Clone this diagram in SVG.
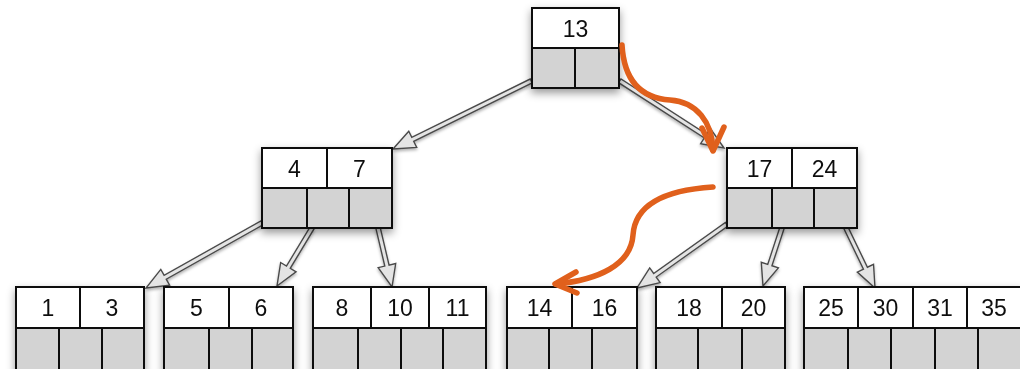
<svg xmlns="http://www.w3.org/2000/svg" width="1020" height="369" viewBox="0 0 1020 369">
  <defs>
    <filter id="shadow" x="-20%" y="-20%" width="140%" height="150%">
      <feDropShadow dx="0" dy="4" stdDeviation="4.5" flood-color="#000" flood-opacity="0.4"/>
    </filter>
    <filter id="arrowShadow" x="-20%" y="-20%" width="140%" height="140%">
      <feDropShadow dx="0" dy="2" stdDeviation="1.8" flood-color="#000" flood-opacity="0.3"/>
    </filter>
  </defs>
  <style>
    .key { fill: #ffffff; stroke: #111; stroke-width: 2; }
    .ptr { fill: #d3d3d3; stroke: #111; stroke-width: 2; }
    .lbl { font-family: "Liberation Sans", Arial, sans-serif; font-size: 23px; fill: #111; text-anchor: middle; }
    .link { fill: #e4e4e4; stroke: #4a4a4a; stroke-width: 1.4; stroke-linejoin: miter; }
    .path { fill: none; stroke: #e0601c; stroke-width: 5.5; stroke-linecap: round; stroke-linejoin: round; }
  </style>

  <rect width="1020" height="369" fill="#ffffff"/>

  <!-- child pointers: hollow double-line arrows, tip at origin, pointing along +x -->
  <g id="connectors" filter="url(#arrowShadow)">
    <path class="link" transform="translate(393,149) rotate(153.8)" d="M0,0 L-22,-9 L-22,-2.2 L-154,-2.2 L-154,2.2 L-22,2.2 L-22,9 Z"/>
    <path class="link" transform="translate(724,148) rotate(32.8)" d="M0,0 L-22,-9 L-22,-2.2 L-124,-2.2 L-124,2.2 L-22,2.2 L-22,9 Z"/>
    <path class="link" transform="translate(146,288) rotate(150.7)" d="M0,0 L-22,-9 L-22,-2.2 L-133,-2.2 L-133,2.2 L-22,2.2 L-22,9 Z"/>
    <path class="link" transform="translate(277,286) rotate(121.1)" d="M0,0 L-22,-9 L-22,-2.2 L-68,-2.2 L-68,2.2 L-22,2.2 L-22,9 Z"/>
    <path class="link" transform="translate(392,287) rotate(76.7)" d="M0,0 L-22,-9 L-22,-2.2 L-61,-2.2 L-61,2.2 L-22,2.2 L-22,9 Z"/>
    <path class="link" transform="translate(637,288) rotate(144.6)" d="M0,0 L-22,-9 L-22,-2.2 L-110,-2.2 L-110,2.2 L-22,2.2 L-22,9 Z"/>
    <path class="link" transform="translate(763,286) rotate(108.1)" d="M0,0 L-22,-9 L-22,-2.2 L-61,-2.2 L-61,2.2 L-22,2.2 L-22,9 Z"/>
    <path class="link" transform="translate(875,288) rotate(64.2)" d="M0,0 L-22,-9 L-22,-2.2 L-67,-2.2 L-67,2.2 L-22,2.2 L-22,9 Z"/>
  </g>

  <!-- root -->
  <g id="node-13" filter="url(#shadow)">
    <rect class="key" x="532" y="8" width="87" height="40"/>
    <rect class="ptr" x="532" y="48" width="43" height="40"/>
    <rect class="ptr" x="575" y="48" width="44" height="40"/>
    <text class="lbl" x="575.5" y="36.5">13</text>
  </g>

  <!-- inner nodes -->
  <g id="node-4-7" filter="url(#shadow)">
    <rect class="key" x="262" y="148" width="65" height="40"/>
    <rect class="key" x="327" y="148" width="65" height="40"/>
    <rect class="ptr" x="262" y="188" width="45" height="40"/>
    <rect class="ptr" x="307" y="188" width="42" height="40"/>
    <rect class="ptr" x="349" y="188" width="43" height="40"/>
    <text class="lbl" x="294.5" y="176.5">4</text>
    <text class="lbl" x="359.5" y="176.5">7</text>
  </g>

  <g id="node-17-24" filter="url(#shadow)">
    <rect class="key" x="727" y="148" width="65" height="40"/>
    <rect class="key" x="792" y="148" width="65" height="40"/>
    <rect class="ptr" x="727" y="188" width="45" height="40"/>
    <rect class="ptr" x="772" y="188" width="42" height="40"/>
    <rect class="ptr" x="814" y="188" width="43" height="40"/>
    <text class="lbl" x="759.5" y="176.5">17</text>
    <text class="lbl" x="824.5" y="176.5">24</text>
  </g>

  <!-- leaves -->
  <g id="leaf-1-3" filter="url(#shadow)">
    <rect class="key" x="16" y="287" width="64" height="41"/>
    <rect class="key" x="80" y="287" width="64" height="41"/>
    <rect class="ptr" x="16" y="328" width="43" height="44"/>
    <rect class="ptr" x="59" y="328" width="43" height="44"/>
    <rect class="ptr" x="102" y="328" width="42" height="44"/>
    <text class="lbl" x="48" y="315.5">1</text>
    <text class="lbl" x="112" y="315.5">3</text>
  </g>

  <g id="leaf-5-6" filter="url(#shadow)">
    <rect class="key" x="164" y="287" width="65" height="41"/>
    <rect class="key" x="229" y="287" width="64" height="41"/>
    <rect class="ptr" x="164" y="328" width="45" height="44"/>
    <rect class="ptr" x="209" y="328" width="43" height="44"/>
    <rect class="ptr" x="252" y="328" width="41" height="44"/>
    <text class="lbl" x="196.5" y="315.5">5</text>
    <text class="lbl" x="261" y="315.5">6</text>
  </g>

  <g id="leaf-8-10-11" filter="url(#shadow)">
    <rect class="key" x="313" y="287" width="58" height="41"/>
    <rect class="key" x="371" y="287" width="58" height="41"/>
    <rect class="key" x="429" y="287" width="57" height="41"/>
    <rect class="ptr" x="313" y="328" width="45" height="44"/>
    <rect class="ptr" x="358" y="328" width="43" height="44"/>
    <rect class="ptr" x="401" y="328" width="42" height="44"/>
    <rect class="ptr" x="443" y="328" width="43" height="44"/>
    <text class="lbl" x="342" y="315.5">8</text>
    <text class="lbl" x="400" y="315.5">10</text>
    <text class="lbl" x="457.5" y="315.5">11</text>
  </g>

  <g id="leaf-14-16" filter="url(#shadow)">
    <rect class="key" x="507" y="287" width="65" height="41"/>
    <rect class="key" x="572" y="287" width="65" height="41"/>
    <rect class="ptr" x="507" y="328" width="42" height="44"/>
    <rect class="ptr" x="549" y="328" width="43" height="44"/>
    <rect class="ptr" x="592" y="328" width="45" height="44"/>
    <text class="lbl" x="539.5" y="315.5">14</text>
    <text class="lbl" x="604.5" y="315.5">16</text>
  </g>

  <g id="leaf-18-20" filter="url(#shadow)">
    <rect class="key" x="656" y="287" width="66" height="41"/>
    <rect class="key" x="722" y="287" width="63" height="41"/>
    <rect class="ptr" x="656" y="328" width="42" height="44"/>
    <rect class="ptr" x="698" y="328" width="44" height="44"/>
    <rect class="ptr" x="742" y="328" width="43" height="44"/>
    <text class="lbl" x="689" y="315.5">18</text>
    <text class="lbl" x="753.5" y="315.5">20</text>
  </g>

  <g id="leaf-25-35" filter="url(#shadow)">
    <rect class="key" x="804" y="287" width="54" height="41"/>
    <rect class="key" x="858" y="287" width="55" height="41"/>
    <rect class="key" x="913" y="287" width="54" height="41"/>
    <rect class="key" x="967" y="287" width="55" height="41"/>
    <rect class="ptr" x="804" y="328" width="44" height="44"/>
    <rect class="ptr" x="848" y="328" width="43" height="44"/>
    <rect class="ptr" x="891" y="328" width="44" height="44"/>
    <rect class="ptr" x="935" y="328" width="43" height="44"/>
    <rect class="ptr" x="978" y="328" width="44" height="44"/>
    <text class="lbl" x="831" y="315.5">25</text>
    <text class="lbl" x="885.5" y="315.5">30</text>
    <text class="lbl" x="940" y="315.5">31</text>
    <text class="lbl" x="994" y="315.5">35</text>
  </g>

  <!-- search path for key 14 -->
  <g id="search-path">
    <path class="path" d="M622,45 C624,80 640,98 670,100 C697,102 712,122 713,150"/>
    <polyline class="path" points="702,128 713,151 724,127"/>
    <path class="path" d="M713,187 C665,190 635,205 633,235 C631,265 598,280 556,284"/>
    <polyline class="path" points="576,272 555,284 577,293"/>
  </g>
</svg>
